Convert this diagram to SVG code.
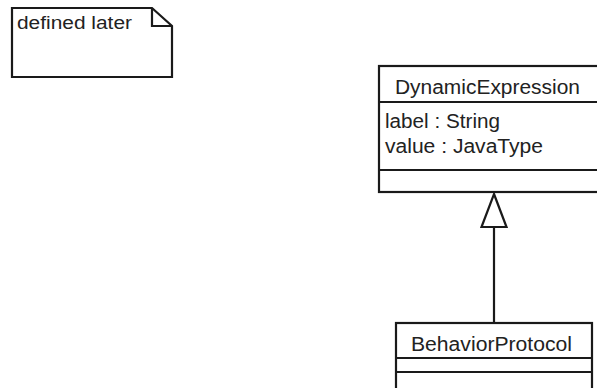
<svg xmlns="http://www.w3.org/2000/svg" width="597" height="388" viewBox="0 0 597 388">
  <style>
    .shape { fill: #ffffff; stroke: #1a1a1a; stroke-width: 2.2; }
    .line { fill: none; stroke: #1a1a1a; stroke-width: 2.2; }
    .txt { font-family: "Liberation Sans", Arial, sans-serif; font-size: 19.5px; fill: #222222; }
  </style>
  <rect width="597" height="388" fill="#ffffff"/>

  <!-- comment note -->
  <g id="note">
    <path class="shape" d="M12,8 H152 L172,26 V77 H12 Z"/>
    <path class="line" d="M152,8 V26 H172"/>
    <text class="txt" x="17" y="29" style="font-size:17.5px" textLength="115" lengthAdjust="spacingAndGlyphs">defined later</text>
  </g>

  <!-- class DynamicExpression -->
  <g id="DynamicExpression">
    <rect class="shape" x="379" y="66" width="240" height="126"/>
    <line class="line" x1="379" y1="102" x2="619" y2="102"/>
    <line class="line" x1="379" y1="170" x2="619" y2="170"/>
    <text class="txt" x="395" y="93.5" textLength="185" lengthAdjust="spacingAndGlyphs">DynamicExpression</text>
    <text class="txt" x="385" y="127.5" textLength="115" lengthAdjust="spacingAndGlyphs">label : String</text>
    <text class="txt" x="385" y="153" textLength="158" lengthAdjust="spacingAndGlyphs">value : JavaType</text>
  </g>

  <!-- class BehaviorProtocol -->
  <g id="BehaviorProtocol">
    <rect class="shape" x="396" y="323" width="196" height="80"/>
    <line class="line" x1="396" y1="358" x2="592" y2="358"/>
    <line class="line" x1="396" y1="372" x2="592" y2="372"/>
    <text class="txt" x="411" y="350.5" textLength="161" lengthAdjust="spacingAndGlyphs">BehaviorProtocol</text>
  </g>

  <!-- generalization -->
  <g id="connectors">
    <line class="line" x1="494" y1="227" x2="494" y2="323"/>
    <path class="shape" d="M494,194 L506.5,227 H481.5 Z"/>
  </g>
</svg>
